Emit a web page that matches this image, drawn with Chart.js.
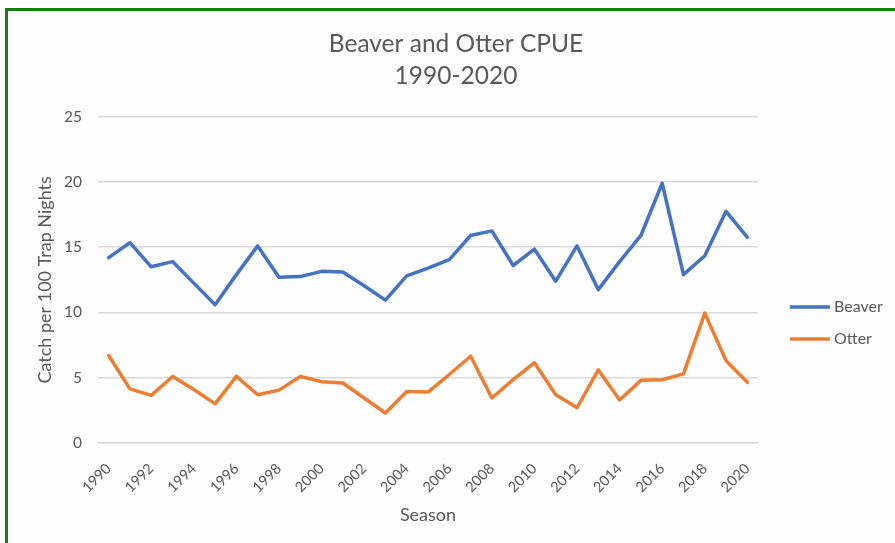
<!DOCTYPE html>
<html>
<head>
<meta charset="utf-8">
<script src="https://cdn.jsdelivr.net/npm/chart.js@4.4.1/dist/chart.umd.min.js"></script>
<style>
    html, body { margin: 0; padding: 0; background: #fff; }
    #wrap { position: relative; width: 895px; height: 543px; overflow: hidden; background: #fff; }
    #frame {
        position: absolute; left: 5px; top: 8px; width: 1000px; height: 1000px;
        border-top: 3px solid #147d14; border-left: 3px solid #147d14; background: #fdfdfd;
    }
    #chart { position: absolute; left: 0; top: 0; }
</style>
</head>
<body>
<div id="wrap">
    <div id="frame"></div>
    <canvas id="chart" width="920" height="543"></canvas>
</div>
<script>
// Season labels and catch per unit effort (per 100 trap nights)
const seasons = [
    '1990', '1991', '1992', '1993', '1994', '1995', '1996', '1997', '1998', '1999',
    '2000', '2001', '2002', '2003', '2004', '2005', '2006', '2007', '2008', '2009',
    '2010', '2011', '2012', '2013', '2014', '2015', '2016', '2017', '2018', '2019', '2020'
];
const beaverCpue = [
    14.2, 15.35, 13.5, 13.9, 12.25, 10.6, 12.9, 15.1, 12.7, 12.75,
    13.15, 13.1, 12.05, 10.95, 12.8, 13.4, 14.05, 15.9, 16.25, 13.6,
    14.85, 12.4, 15.1, 11.75, 13.9, 15.9, 19.9, 12.9, 14.35, 17.75, 15.75
];
const otterCpue = [
    6.7, 4.15, 3.65, 5.1, 4.1, 3.0, 5.1, 3.7, 4.05, 5.1,
    4.7, 4.6, 3.45, 2.3, 3.95, 3.9, 5.25, 6.65, 3.45, 4.85,
    6.15, 3.7, 2.7, 5.6, 3.3, 4.8, 4.85, 5.3, 9.95, 6.3, 4.65
];
const yMin = 0;
const yMax = 25;
const yStep = 5;

const FONT = 'Lato, "Open Sans", sans-serif';
const TEXT = '#595959';

// Legend drawn beside the plot: short line + label per dataset
const sideLegend = {
    id: 'sideLegend',
    afterDraw(chart, args, opts) {
        const { ctx, chartArea } = chart;
        const x0 = chartArea.right + opts.offsetX;
        ctx.save();
        ctx.font = `${opts.fontSize}px ${FONT}`;
        ctx.textBaseline = 'middle';
        ctx.textAlign = 'left';
        chart.data.datasets.forEach((ds, i) => {
            const y = opts.top + i * opts.gap;
            ctx.strokeStyle = ds.borderColor;
            ctx.lineWidth = ds.borderWidth;
            ctx.beginPath();
            ctx.moveTo(x0, y);
            ctx.lineTo(x0 + opts.lineLength, y);
            ctx.stroke();
            ctx.fillStyle = TEXT;
            ctx.fillText(ds.label, x0 + opts.lineLength + 4, y);
        });
        ctx.restore();
    }
};

new Chart(document.getElementById('chart'), {
    type: 'line',
    data: {
        labels: seasons,
        datasets: [{
            label: 'Beaver',
            data: beaverCpue,
            borderColor: '#4472c4',
            borderWidth: 3.5,
            pointRadius: 0,
            borderJoinStyle: 'round',
            borderCapStyle: 'round',
            tension: 0
        }, {
            label: 'Otter',
            data: otterCpue,
            borderColor: '#ed7d31',
            borderWidth: 3.5,
            pointRadius: 0,
            borderJoinStyle: 'round',
            borderCapStyle: 'round',
            tension: 0
        }]
    },
    options: {
        responsive: false,
        animation: false,
        events: [],
        layout: { padding: { left: 8, right: 16, top: 0, bottom: 0 } },
        plugins: {
            legend: { display: false },
            tooltip: { enabled: false },
            title: {
                display: true,
                text: ['Beaver and Otter CPUE', '1990-2020'],
                color: TEXT,
                font: { family: FONT, size: 24.5, weight: 'normal', lineHeight: 1.3 },
                padding: { top: 28, bottom: 25 }
            },
            sideLegend: { offsetX: 32, lineLength: 40, top: 307, gap: 32, fontSize: 16 }
        },
        scales: {
            x: {
                offset: true,
                grid: { display: false, drawTicks: false },
                border: { color: '#d9d9d9', width: 1.5 },
                ticks: {
                    autoSkip: false,
                    minRotation: 45,
                    maxRotation: 45,
                    padding: 17,
                    color: TEXT,
                    font: { family: FONT, size: 14.5 },
                    callback: (val, i) => (i % 2 === 0 ? seasons[i] : '')
                },
                title: {
                    display: true,
                    text: 'Season',
                    color: TEXT,
                    font: { family: FONT, size: 18 },
                    padding: { top: 0, bottom: 17 }
                },
                afterFit: (scale) => { scale.height = 100; }
            },
            y: {
                min: yMin,
                max: yMax,
                ticks: {
                    stepSize: yStep,
                    padding: 16,
                    color: TEXT,
                    font: { family: FONT, size: 15.5 }
                },
                grid: { color: '#d9d9d9', lineWidth: 1.5, drawTicks: false },
                border: { display: false },
                title: {
                    display: true,
                    text: 'Catch per 100 Trap Nights',
                    color: TEXT,
                    font: { family: FONT, size: 18 },
                    padding: { top: 26, bottom: 0 }
                },
                afterFit: (scale) => { scale.width = 90; }
            },
            // empty column on the right that holds the legend
            legendGutter: {
                type: 'linear',
                position: 'right',
                grid: { display: false, drawTicks: false },
                border: { display: false },
                ticks: { display: false },
                afterFit: (scale) => { scale.width = 146; }
            }
        }
    },
    plugins: [sideLegend]
});
</script>
</body>
</html>
